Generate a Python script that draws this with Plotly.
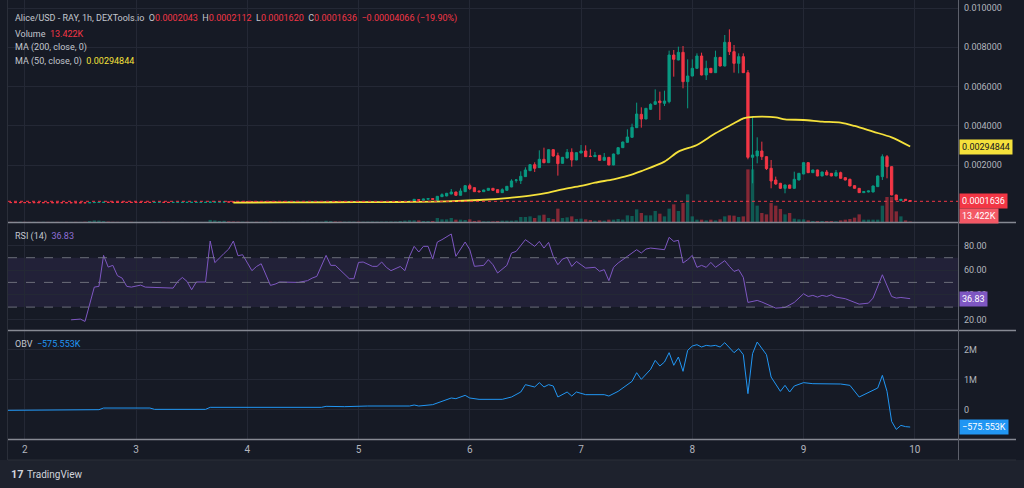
import plotly.graph_objects as go
from datetime import datetime, timedelta

W, H = 1024, 488
BG = "#161a25"
GRID = "#242835"
SEP = "#868993"
TXT = "#c3c6ce"
AX = "#b2b5be"
UP = "#089981"
DOWN = "#f23645"
FONT = "Roboto"

# ---------------- data (prices in micro-USD, volumes / OBV in thousands) ----------------
START = datetime(2024, 3, 1, 20, 0)   # first hourly candle
U = 1e-6

opens_u = [
    101, 100, 99, 98, 98, 97, 96, 96, 95, 95, 94, 94, 93, 93, 92, 92, 91, 91,
    90, 95, 102, 108, 112,
    110, 109, 108, 108, 108, 107, 107, 107, 107, 107, 108, 109, 108, 107, 108, 108, 109, 109, 109, 109, 109,
    109, 122, 126, 128, 131, 130, 128,
    127, 127, 126, 126, 125, 125, 125, 124, 124, 124,
    124, 125, 125, 125, 125, 126, 126, 127, 128, 135,
    138, 137, 136, 136, 137, 137, 136, 136, 137, 138,
    138, 139, 140, 141, 142, 150, 158,
    162, 250, 220, 270, 300, 213, 400, 434, 536, 637,
    468, 654, 960, 858, 688, 654, 722, 824, 756, 604,
    722, 892, 1230, 1214, 1418, 1723, 2028, 1876, 2300, 2130,
    2791, 2486, 2096, 2367, 2656, 2266, 2622, 2723, 2460, 2435,
    2503, 2249, 2401, 2011, 2571, 2893, 3164, 3419, 3911, 4589,
    4352, 4844, 5098, 5268, 5149, 5234, 7608, 7354, 7744, 6251,
    6540, 6930, 7557, 6591, 6930, 6709, 7489, 7049, 8253, 7778,
    7184, 7523, 6709, 2402, 2469, 2724, 2435, 1842, 1248, 1079,
    824, 994, 824, 1248, 1553, 2130, 1621, 1757, 1452, 1655,
    1587, 1452, 1621, 1367, 1282, 960, 824, 604, 638, 638,
    909, 1418, 2435, 1927, 485, 197, 265, 204.3,
]
highs_u = [
    104, 103, 102, 101, 101, 100, 99, 99, 98, 98, 97, 97, 96, 96, 95, 95, 94, 94,
    98, 105, 111, 115, 115,
    113, 112, 111, 111, 111, 110, 110, 110, 110, 110, 111, 112, 112, 111, 111, 111, 112, 112, 112, 112, 112,
    125, 129, 131, 134, 134, 133, 131,
    130, 130, 129, 129, 128, 128, 128, 127, 127, 127,
    128, 128, 128, 128, 129, 129, 130, 131, 138, 141,
    141, 140, 139, 140, 140, 140, 139, 140, 141, 141,
    142, 143, 144, 145, 153, 161, 165,
    280, 260, 290, 310, 310, 430, 570, 590, 790, 650,
    824, 980, 1061, 870, 700, 750, 840, 840, 770, 824,
    940, 1282, 1299, 1689, 1893, 2050, 2147, 2757, 2893, 2810,
    2810, 2639, 2420, 2825, 2859, 2660, 3029, 3012, 2808, 2673,
    2520, 2622, 2420, 2590, 2910, 3200, 3826, 4114, 5183, 4945,
    4910, 5149, 5861, 5743, 5793, 7829, 7863, 8032, 8066, 7388,
    7388, 7693, 7727, 7320, 6950, 7829, 7510, 8626, 8914, 8117,
    7693, 7693, 6845, 4505, 3419, 3199, 2450, 2266, 1420, 1100,
    1010, 1010, 1672, 1600, 2150, 2150, 1770, 1770, 1670, 1757,
    1600, 1757, 1672, 1380, 1316, 980, 840, 680, 700, 960,
    1470, 2554, 2520, 1940, 500, 280, 280, 211.2,
]
lows_u = [
    97, 96, 95, 95, 94, 93, 93, 92, 92, 91, 91, 90, 90, 89, 89, 88, 88, 87,
    87, 92, 99, 105, 107,
    106, 105, 105, 105, 104, 104, 104, 104, 104, 104, 104, 105, 105, 104, 104, 105, 105, 106, 106, 106, 106,
    106, 119, 123, 125, 127, 125, 124,
    124, 123, 123, 122, 122, 122, 121, 121, 121, 121,
    121, 122, 122, 122, 122, 123, 123, 124, 125, 132,
    134, 133, 133, 133, 134, 133, 133, 133, 134, 135,
    135, 136, 137, 138, 139, 147, 155,
    150, 200, 210, 260, 250, 200, 380, 420, 520, 450,
    460, 640, 739, 640, 604, 640, 710, 710, 590, 590,
    710, 880, 1112, 1044, 1400, 1700, 1655, 1860, 2096, 2110,
    2435, 1469, 2080, 2350, 1926, 2250, 2610, 2420, 2420, 2420,
    2230, 2230, 2000, 2000, 2560, 2880, 3150, 3400, 3890, 3911,
    4340, 4810, 5064, 4301, 5013, 5149, 6506, 7340, 5912, 4895,
    6520, 6910, 6570, 6336, 6690, 6690, 7030, 7030, 7608, 6709,
    6675, 6690, 2300, 1079, 2096, 2266, 1757, 824, 1000, 790,
    570, 810, 810, 1230, 1540, 1600, 1600, 1440, 1440, 1490,
    1440, 1440, 1320, 1230, 930, 810, 590, 590, 620, 620,
    890, 1250, 1333, 470, 220, 190, 180, 162.0,
]
closes_u = [
    100, 99, 98, 98, 97, 96, 96, 95, 95, 94, 94, 93, 93, 92, 92, 91, 91, 90,
    95, 102, 108, 112, 110,
    109, 108, 108, 108, 107, 107, 107, 107, 107, 108, 109, 108, 107, 108, 108, 109, 109, 109, 109, 109, 109,
    122, 126, 128, 131, 130, 128, 127,
    127, 126, 126, 125, 125, 125, 124, 124, 124, 124,
    125, 125, 125, 125, 126, 126, 127, 128, 135, 138,
    137, 136, 136, 137, 137, 136, 136, 137, 138, 138,
    139, 140, 141, 142, 150, 158, 162,
    264, 220, 280, 300, 264, 417, 502, 570, 637, 468,
    688, 960, 807, 654, 654, 739, 824, 722, 604, 756,
    926, 1197, 1248, 1435, 1757, 2028, 1842, 2300, 2130, 2791,
    2469, 2079, 2401, 2656, 2266, 2639, 2723, 2435, 2440, 2503,
    2249, 2401, 2011, 2571, 2893, 3181, 3436, 3928, 4606, 4352,
    4895, 5098, 5234, 5183, 5268, 7608, 7388, 7744, 6251, 6540,
    6930, 7557, 6591, 6930, 6709, 7489, 7049, 8253, 7778, 7184,
    7523, 6709, 2402, 2520, 2724, 2435, 1825, 1197, 1045, 824,
    994, 824, 1282, 1587, 2130, 1621, 1757, 1452, 1655, 1503,
    1452, 1621, 1333, 1248, 943, 824, 604, 655, 689, 943,
    1452, 2435, 1927, 485, 231, 265, 204.3, 163.6,
]
volumes_k = [
    6, 4, 3, 5, 4, 3, 4, 3, 5, 4, 3, 4, 3, 4, 3, 4, 3, 8,
    30, 45, 40, 25, 12,
    5, 4, 3, 3, 4, 3, 3, 3, 3, 4, 6, 5, 4, 5, 4, 5, 3, 3, 3, 3, 3,
    60, 45, 30, 35, 20, 15, 12,
    8, 6, 5, 6, 5, 5, 6, 5, 5, 5,
    6, 5, 5, 6, 7, 6, 8, 10, 35, 25,
    15, 12, 10, 12, 10, 8, 9, 10, 12, 10,
    12, 14, 15, 14, 30, 40, 50,
    48, 48, 29, 29, 29, 116, 77, 77, 116, 68,
    68, 58, 77, 29, 48, 19, 19, 19, 29, 39,
    39, 39, 48, 145, 145, 164, 116, 193, 213, 116,
    87, 387, 116, 135, 164, 87, 97, 77, 58, 39,
    48, 39, 68, 68, 87, 68, 193, 174, 367, 261,
    193, 193, 319, 242, 164, 387, 512, 319, 551, 802,
    164, 68, 68, 48, 68, 48, 77, 164, 193, 184,
    145, 164, 1527, 1527, 474, 261, 222, 551, 474, 377,
    222, 261, 97, 77, 77, 48, 29, 29, 29, 29,
    29, 19, 48, 68, 87, 126, 222, 68, 68, 68,
    68, 474, 725, 725, 309, 164, 48, 13.422,
]

ma_hours = [49, 60, 70, 81, 88, 95, 102, 109, 113, 117, 120, 124, 127, 131, 134, 137, 142,
            145, 149, 153, 157, 159, 160, 163, 166, 168, 172, 176, 180, 183, 187, 191, 195]
ma_values_u = [100, 108, 115, 122, 135, 160, 230, 349, 451, 604, 773, 943, 1112, 1282, 1452, 1700, 2181,
               2690, 3029, 3623, 4131, 4386, 4437, 4471, 4437, 4335, 4301, 4216, 4165, 3996, 3707, 3419, 2948.44]

rsi_hours = [
    14, 16, 17, 18, 19, 20, 21, 22, 23, 24,
    25, 26, 27, 29, 30, 36, 37, 38, 39, 40,
    41, 43, 44, 45, 46, 47, 48, 49, 50, 51,
    53, 54, 55, 57, 58, 59, 63, 65, 66, 67,
    69, 70, 71, 73, 74, 75, 76, 77, 79, 80,
    81, 82, 83, 85, 86, 87, 88, 89, 90, 91,
    92, 93, 94, 96, 97, 99, 100, 101, 103, 104,
    105, 106, 108, 109, 110, 112, 114, 115, 116, 117,
    118, 119, 120, 121, 122, 123, 125, 127, 128, 129,
    130, 131, 132, 134, 136, 137, 138, 139, 141, 142,
    143, 144, 145, 146, 147, 148, 149, 150, 151, 152,
    153, 155, 156, 157, 158, 159, 160, 162, 163, 165,
    166, 168, 170, 172, 173, 174, 175, 176, 177, 178,
    179, 181, 183, 184, 186, 187, 189, 190, 191, 192,
    193, 195,
]
rsi_values = [
    19.7, 20.3, 18.4, 31.6, 46.2, 46.8, 71.9, 62.4, 63.8, 55.4,
    53.5, 46.8, 46.2, 47.8, 46.2, 45.4, 50.8, 54.0, 50.8, 44.1,
    50.3, 50.3, 83.5, 66.0, 70.0, 73.5, 77.0, 83.5, 71.6, 72.4,
    59.5, 62.9, 65.1, 47.6, 48.6, 50.3, 50.0, 51.4, 53.5, 54.9,
    71.9, 63.8, 63.8, 56.2, 53.0, 53.0, 66.2, 66.5, 63.0, 63.0,
    66.5, 62.2, 59.5, 62.9, 59.5, 71.1, 79.2, 74.6, 79.2, 79.2,
    68.9, 82.7, 84.6, 89.2, 71.1, 82.7, 76.5, 63.0, 63.8, 68.4,
    64.3, 57.6, 63.8, 73.8, 75.1, 84.6, 79.2, 83.2, 77.8, 82.4,
    71.1, 64.3, 68.9, 70.3, 62.9, 67.0, 61.6, 62.2, 59.0, 60.3,
    51.4, 62.2, 65.7, 71.1, 76.5, 73.8, 77.0, 77.8, 77.3, 76.5,
    86.5, 83.2, 84.1, 65.7, 68.4, 71.9, 62.2, 63.8, 62.2, 66.2,
    62.2, 67.6, 63.0, 58.9, 60.3, 54.1, 33.8, 35.4, 34.1, 30.5,
    29.2, 29.7, 33.8, 40.8, 38.6, 39.5, 38.1, 39.5, 38.6, 40.0,
    38.1, 36.8, 34.1, 32.4, 33.2, 37.3, 56.2, 48.1, 38.6, 37.3,
    37.8, 36.83,
]

obv_hours = [
    0, 20, 21, 31, 32, 43, 44, 68, 69, 73,
    78, 87, 88, 89, 92, 94, 96, 97, 99, 100,
    102, 107, 109, 111, 112, 114, 115, 116, 117, 118,
    119, 121, 122, 123, 125, 129, 130, 132, 133, 135,
    136, 137, 139, 140, 141, 142, 143, 144, 145, 146,
    147, 148, 149, 150, 151, 152, 153, 154, 155, 157,
    158, 159, 160, 161, 162, 164, 165, 167, 168, 169,
    170, 172, 174, 180, 182, 184, 188, 189, 190, 191,
    192, 193, 194, 195,
]
obv_values_k = [
    -21, 1, 56, 56, 12, 12, 79, 79, 112, 101,
    123, 123, 156, 123, 168, 278, 389, 367, 477, 389,
    345, 345, 422, 588, 832, 755, 899, 755, 832, 788,
    422, 588, 455, 588, 500, 500, 455, 610, 721, 943,
    1230, 1009, 1341, 1640, 1452, 1585, 1895, 1475, 1751, 1275,
    1972, 2116, 2160, 2083, 2138, 2116, 2138, 2083, 2227, 1895,
    2027, 1829, 533, 1862, 2249, 1829, 1086, 610, 810, 588,
    788, 899, 865, 854, 810, 422, 721, 1142, 610, -388,
    -654, -521, -562, -575.553,
]

day_ticks = ["2024-03-02", "2024-03-03", "2024-03-04", "2024-03-05", "2024-03-06",
             "2024-03-07", "2024-03-08", "2024-03-09", "2024-03-10"]
day_labels = ["2", "3", "4", "5", "6", "7", "8", "9", "10"]
price_ticks = [0.002, 0.004, 0.006, 0.008, 0.010]
price_labels = ["0.002000", "0.004000", "0.006000", "0.008000", "0.010000"]
rsi_ticks = [20, 40, 60, 80]
rsi_labels = ["20.00", "40.00", "60.00", "80.00"]
obv_ticks = [0, 1000, 2000]
obv_labels = ["0", "1M", "2M"]

last_close = 0.0001636
last_ma = 0.00294844
last_rsi = 36.83
last_obv = -575.553
last_vol_label = "13.422K"

# ---------------- helpers ----------------
def t(h):
    return (START + timedelta(hours=h)).strftime("%Y-%m-%d %H:%M:%S")

def py(px):
    return 1 - px / H

def px_(x):
    return x / W

n = len(closes_u)
times = [t(h) for h in range(n)]
opens = [v * U for v in opens_u]
highs = [v * U for v in highs_u]
lows = [v * U for v in lows_u]
closes = [v * U for v in closes_u]
vol_colors = ["rgba(8,153,129,0.5)" if c >= o else "rgba(242,54,69,0.5)" for o, c in zip(opens_u, closes_u)]

fig = go.Figure()
fig.add_trace(go.Bar(x=times, y=volumes_k, marker=dict(color=vol_colors, line=dict(width=0)),
                     width=3600 * 1000 * 0.72, xaxis="x", yaxis="y2", hoverinfo="skip"))
fig.add_trace(go.Candlestick(
    x=times, open=opens, high=highs, low=lows, close=closes,
    increasing=dict(line=dict(color=UP, width=1), fillcolor=UP),
    decreasing=dict(line=dict(color=DOWN, width=1), fillcolor=DOWN),
    whiskerwidth=0, xaxis="x", yaxis="y", hoverinfo="skip"))
fig.add_trace(go.Scatter(x=[t(h) for h in ma_hours], y=[v * U for v in ma_values_u], mode="lines",
                         line=dict(color="#f5e13b", width=1.8, shape="spline", smoothing=0.8),
                         xaxis="x", yaxis="y", hoverinfo="skip"))
fig.add_trace(go.Scatter(x=[t(h) for h in rsi_hours], y=rsi_values, mode="lines",
                         line=dict(color="#7e57c2", width=1), xaxis="x", yaxis="y3", hoverinfo="skip"))
fig.add_trace(go.Scatter(x=[t(h) for h in obv_hours], y=obv_values_k, mode="lines",
                         line=dict(color="#2196f3", width=1), xaxis="x", yaxis="y4", hoverinfo="skip"))

x0, x1 = px_(8), px_(958)
common_y = dict(side="right", anchor="x", showgrid=True, gridcolor=GRID, gridwidth=1, zeroline=False,
                showline=False, ticks="", tickfont=dict(family=FONT, size=9, color=AX),
                ticklabelstandoff=5, fixedrange=True)

fig.update_layout(
    width=W, height=H, margin=dict(l=0, r=0, t=0, b=0),
    paper_bgcolor=BG, plot_bgcolor="rgba(0,0,0,0)",
    showlegend=False, hovermode=False,
    font=dict(family=FONT, color=TXT),
    xaxis=dict(domain=[x0, x1], type="date", anchor="y4",
               range=["2024-03-01 20:23:00", "2024-03-10 09:19:00"],
               tickvals=day_ticks, ticktext=day_labels, ticks="",
               tickfont=dict(family=FONT, size=10, color=AX), ticklabelstandoff=3,
               showgrid=True, gridcolor=GRID, zeroline=False, showline=False,
               rangeslider=dict(visible=False), fixedrange=True),
    yaxis=dict(domain=[py(222), 1.0], range=[-0.00089, 0.010407],
               tickvals=price_ticks, ticktext=price_labels, **common_y),
    yaxis2=dict(overlaying="y", range=[0, 6440], visible=False, fixedrange=True),
    yaxis3=dict(domain=[py(330), py(223)], range=[11.46, 98.1],
                tickvals=rsi_ticks, ticktext=rsi_labels, **common_y),
    yaxis4=dict(domain=[py(439), py(331)], range=[-973, 2615],
                tickvals=obv_ticks, ticktext=obv_labels, **common_y),
)

shapes = []
# bottom strip
shapes.append(dict(type="rect", xref="paper", yref="paper", x0=0, x1=1, y0=0, y1=py(460),
                   fillcolor="#1e222d", line=dict(width=0), layer="below"))
# RSI band and levels
shapes.append(dict(type="rect", xref="paper", yref="y3", x0=x0, x1=x1, y0=30, y1=70,
                   fillcolor="rgba(126,87,194,0.12)", line=dict(width=0), layer="below"))
for lvl in (70, 50, 30):
    shapes.append(dict(type="line", xref="paper", yref="y3", x0=x0, x1=x1, y0=lvl, y1=lvl,
                       line=dict(color="rgba(120,123,134,0.85)", width=1, dash="dash")))
# last price dotted line
shapes.append(dict(type="line", xref="paper", yref="y", x0=x0, x1=x1, y0=last_close, y1=last_close,
                   line=dict(color=DOWN, width=1, dash="dot")))
# pane separators
for ypx in (222.5, 330.5, 439.5):
    shapes.append(dict(type="line", xref="paper", yref="paper", x0=px_(8), x1=px_(1016),
                       y0=py(ypx), y1=py(ypx), line=dict(color=SEP, width=1.5)))
shapes.append(dict(type="line", xref="paper", yref="paper", x0=px_(8), x1=px_(1016),
                   y0=py(460), y1=py(460), line=dict(color="#2a2e39", width=1)))
# price-scale border and left frame
shapes.append(dict(type="line", xref="paper", yref="paper", x0=px_(958.5), x1=px_(958.5),
                   y0=py(0), y1=py(460), line=dict(color="#5d606b", width=1)))
shapes.append(dict(type="line", xref="paper", yref="paper", x0=px_(7.5), x1=px_(7.5),
                   y0=py(0), y1=py(460), line=dict(color="#2a2e39", width=1)))
fig.update_layout(shapes=shapes)

ann = []
def legend(ypx, text):
    ann.append(dict(xref="paper", yref="paper", x=px_(13), y=py(ypx), xanchor="left", yanchor="middle",
                    text=text, showarrow=False, font=dict(family=FONT, size=9, color=TXT)))

def red(s):
    return '<span style="color:%s">%s</span>' % (DOWN, s)

sp = "\u00a0\u00a0"
legend(19, "Alice/USD - RAY, 1h, DEXTools.io" + sp + "O" + red("0.0002043") + sp + "H" + red("0.0002112")
       + sp + "L" + red("0.0001620") + sp + "C" + red("0.0001636") + sp + red("\u22120.00004066 (\u221219.90%)"))
legend(33.5, "Volume" + sp + red("13.422K"))
legend(47.5, "MA (200, close, 0)")
legend(61.5, "MA (50, close, 0)" + sp + '<span style="color:#f5e13b">0.00294844</span>')
legend(236, "RSI (14)" + sp + '<span style="color:#8f6fd6">36.83</span>')
legend(343.5, "OBV" + sp + '<span style="color:#2196f3">\u2212575.553K</span>')

def tag(yref, yval, text, bg, fg="#ffffff"):
    ann.append(dict(xref="paper", yref=yref, x=px_(958.5), y=yval, xanchor="left", yanchor="middle",
                    text=text, showarrow=False, bgcolor=bg, borderpad=2,
                    font=dict(family=FONT, size=9, color=fg)))

tag("y", last_ma, "0.00294844", "#f5e13b", "#131722")
tag("y", last_close, "0.0001636", DOWN)
tag("paper", py(216.5), last_vol_label, "#f35865")
tag("y3", last_rsi, "36.83", "#7e57c2")
tag("y4", last_obv, "\u2212575.553K", "#2196f3")

# TradingView watermark
ann.append(dict(xref="paper", yref="paper", x=px_(9), y=py(474), xanchor="left", yanchor="middle",
                text="<b>17</b>", showarrow=False, font=dict(family=FONT, size=11, color="#d1d4dc")))
ann.append(dict(xref="paper", yref="paper", x=px_(25), y=py(474), xanchor="left", yanchor="middle",
                text="TradingView", showarrow=False, font=dict(family=FONT, size=10, color="#d1d4dc")))
fig.update_layout(annotations=ann)

fig.write_html("out.html", config={"displayModeBar": False},
               post_script="document.body.style.margin='0';document.body.style.overflow='hidden';"
                           "document.body.style.background='%s';" % BG)
